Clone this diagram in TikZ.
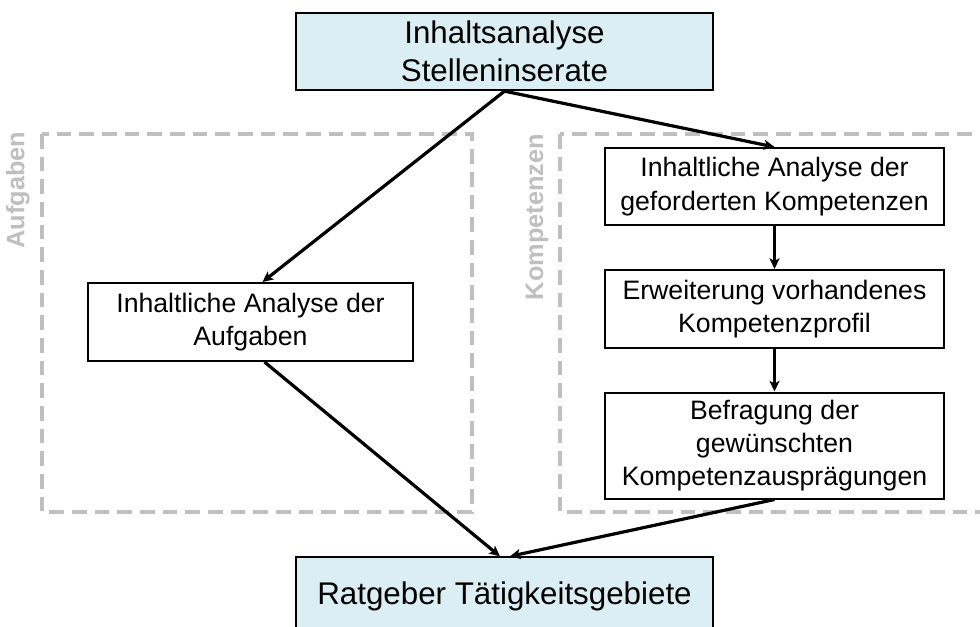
\documentclass[tikz,border=0pt]{standalone}
\usepackage{fontspec}
\setmainfont{Liberation Sans}
\usetikzlibrary{arrows.meta, positioning}

\definecolor{ltblue}{HTML}{DBEEF4}
\definecolor{framegray}{HTML}{BFBFBF}

\tikzset{
    box/.style={draw, line width=1.5pt, fill=white, align=center, inner sep=0pt,
        font=\fontsize{20}{25}\selectfont},
    headbox/.style={box, fill=ltblue, minimum width=312.75pt, minimum height=58pt,
        font=\fontsize{23.5}{28.5}\selectfont},
    frame/.style={framegray, line width=3pt, dash pattern=on 11pt off 6pt},
    framelabel/.style={framegray, rotate=90, font=\fontsize{19}{21}\selectfont\bfseries},
    flow/.style={-{Stealth[length=8pt, width=7.5pt, inset=2pt]}, line width=2.4pt}
}

\begin{document}
\begin{tikzpicture}[x=0.75pt, y=-0.75pt]
    \useasboundingbox (0,0) rectangle (980,627);
    \clip (0,0) rectangle (980,627);

    % Gestrichelte Bereiche
    \draw[frame] (42,134) rectangle (472,512);
    \draw[frame] (560,134) rectangle (1000,512);
    \node[framelabel] (lblaufg) at (18,190) {Aufgaben};
    \node[framelabel] (lblkomp) at (537,217) {Kompetenzen};

    % Kaesten
    \node[headbox] (inhalt) at (504.5,51.5) {Inhaltsanalyse\\Stelleninserate};
    \node[box, minimum width=243.75pt, minimum height=58.5pt] (aufg) at (250.5,322)
        {Inhaltliche Analyse der\\Aufgaben};
    \node[box, minimum width=254.25pt, minimum height=57.75pt] (komp1) at (774.5,186.5)
        {Inhaltliche Analyse der\\geforderten Kompetenzen};
    \node[box, minimum width=254.25pt, minimum height=58.5pt] (komp2) at (774.5,309)
        {Erweiterung vorhandenes\\Kompetenzprofil};
    \node[box, minimum width=254.25pt, minimum height=79.5pt] (komp3) at (774.5,445.5)
        {Befragung der\\gewünschten\\Kompetenzausprägungen};
    \node[headbox] (ratgeber) at (504.5,596) {Ratgeber Tätigkeitsgebiete};

    % Pfeile
    \draw[flow] (inhalt.south) -- ([xshift=9pt]aufg.north);
    \draw[flow] (inhalt.south) -- (komp1.north);
    \draw[flow] (komp1) -- (komp2);
    \draw[flow] (komp2) -- (komp3);
    \draw[flow] ([xshift=10.5pt]aufg.south) -- ([xshift=-3.4pt]ratgeber.north);
    \draw[flow] (komp3.south) -- ([xshift=4pt]ratgeber.north);
\end{tikzpicture}
\end{document}
